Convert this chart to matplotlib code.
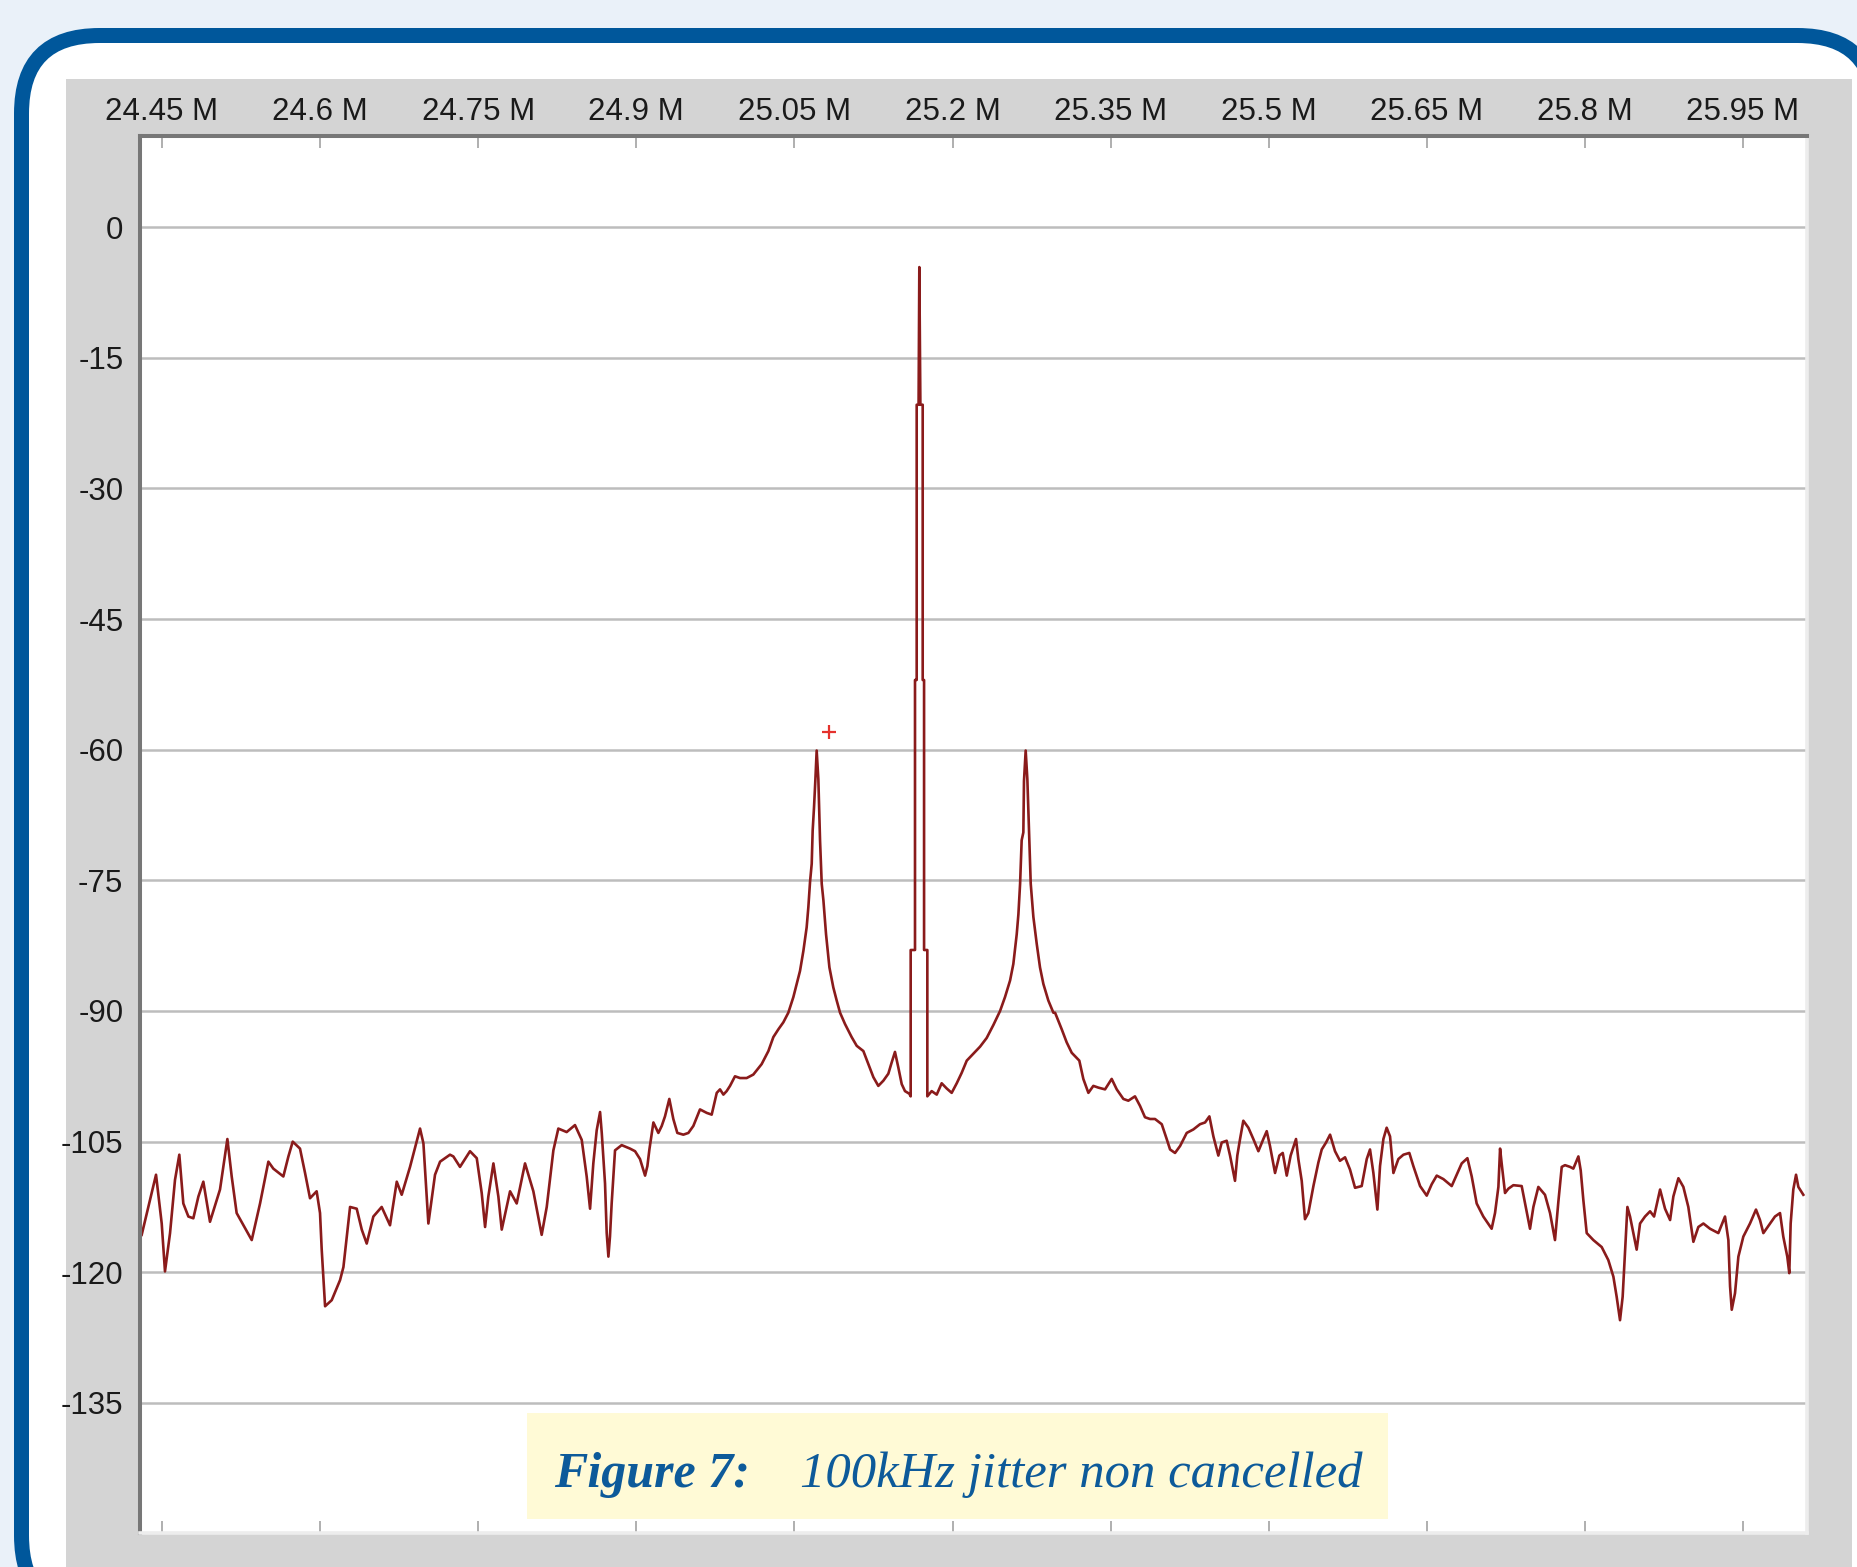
import matplotlib.pyplot as plt
from matplotlib.patches import FancyBboxPatch, Rectangle

plt.rcParams["font.family"] = ["Liberation Sans", "DejaVu Sans"]

W, H = 1857, 1567

# spectrum trace, frequency in MHz, level in dB
freq_mhz = [
    24.4307, 24.4443, 24.4497, 24.4528, 24.4576, 24.4623, 24.4664, 24.4702, 24.4750, 24.4797,
    24.4845, 24.4892, 24.4955, 24.5019, 24.5050, 24.5120, 24.5161, 24.5208, 24.5351, 24.5430,
    24.5509, 24.5556, 24.5651, 24.5699, 24.5740, 24.5809, 24.5857, 24.5904, 24.5967, 24.5999,
    24.6015, 24.6047, 24.6110, 24.6189, 24.6221, 24.6284, 24.6347, 24.6395, 24.6442, 24.6505,
    24.6584, 24.6663, 24.6727, 24.6774, 24.6853, 24.6948, 24.6980, 24.7027, 24.7090, 24.7138,
    24.7232, 24.7264, 24.7327, 24.7422, 24.7486, 24.7533, 24.7565, 24.7596, 24.7644, 24.7691,
    24.7723, 24.7802, 24.7865, 24.7944, 24.8023, 24.8102, 24.8150, 24.8213, 24.8260, 24.8339,
    24.8418, 24.8482, 24.8529, 24.8561, 24.8592, 24.8624, 24.8656, 24.8672, 24.8703, 24.8719,
    24.8735, 24.8750, 24.8766, 24.8798, 24.8861, 24.8940,
    24.8988, 24.9035, 24.9083, 24.9105, 24.9124, 24.9162, 24.9209, 24.9241, 24.9272, 24.9313,
    24.9351, 24.9389, 24.9446, 24.9494, 24.9541, 24.9604, 24.9668, 24.9715, 24.9763, 24.9794,
    24.9826, 24.9857, 24.9889, 24.9936, 24.9984, 25.0047, 25.0110,
    25.0189, 25.0253, 25.0300, 25.0348, 25.0395, 25.0442, 25.0490, 25.0522, 25.0553, 25.0585,
    25.0616, 25.0632, 25.0648, 25.0664, 25.0673, 25.0686, 25.0699, 25.0711, 25.0727, 25.0743,
    25.0759, 25.0775, 25.0800, 25.0832, 25.0869, 25.0901, 25.0933, 25.0980, 25.1043, 25.1091,
    25.1154, 25.1201, 25.1249, 25.1296, 25.1344, 25.1391, 25.1423, 25.1454, 25.1486, 25.1518,
    25.1549, 25.1590,
    25.1603, 25.1603, 25.1644, 25.1644, 25.1660, 25.1660, 25.1678, 25.1685, 25.1695, 25.1717,
    25.1717, 25.1730, 25.1730, 25.1761, 25.1761,
    25.1802, 25.1850, 25.1897, 25.1945, 25.1992, 25.2040, 25.2087, 25.2135, 25.2198, 25.2261,
    25.2324, 25.2388, 25.2451, 25.2498, 25.2546, 25.2577, 25.2609, 25.2625, 25.2641, 25.2656,
    25.2672, 25.2678, 25.2694, 25.2710, 25.2726, 25.2742, 25.2767, 25.2799, 25.2830, 25.2862,
    25.2909, 25.2957,
    25.2973, 25.3036, 25.3083, 25.3131, 25.3203, 25.3241, 25.3289, 25.3336, 25.3384, 25.3447,
    25.3510, 25.3558, 25.3621, 25.3668, 25.3731, 25.3779, 25.3826, 25.3874, 25.3921, 25.3985,
    25.4032, 25.4064, 25.4111, 25.4159, 25.4222, 25.4285, 25.4348, 25.4396, 25.4437, 25.4475,
    25.4522, 25.4554, 25.4601, 25.4633, 25.4680, 25.4702, 25.4728, 25.4759, 25.4807, 25.4854,
    25.4902, 25.4949, 25.4981, 25.5012, 25.5060, 25.5101, 25.5133, 25.5171, 25.5208, 25.5259,
    25.5281, 25.5313, 25.5344, 25.5376, 25.5424, 25.5471, 25.5503, 25.5544, 25.5582, 25.5629,
    25.5676, 25.5724, 25.5771, 25.5819, 25.5882, 25.5930, 25.5961, 25.5993, 25.6031, 25.6056,
    25.6088, 25.6119, 25.6151, 25.6183, 25.6230, 25.6278, 25.6334, 25.6372, 25.6436, 25.6499,
    25.6546, 25.6594, 25.6657, 25.6736,
    25.6831, 25.6885, 25.6926, 25.6973, 25.7036, 25.7115, 25.7147, 25.7179, 25.7195, 25.7210,
    25.7242, 25.7274, 25.7321, 25.7400, 25.7432, 25.7479, 25.7511, 25.7558, 25.7621, 25.7669,
    25.7716, 25.7748, 25.7780, 25.7811, 25.7859, 25.7890, 25.7938, 25.7960, 25.7985, 25.8017,
    25.8080, 25.8159, 25.8222, 25.8270, 25.8301, 25.8333, 25.8358, 25.8380, 25.8403, 25.8428,
    25.8460, 25.8491, 25.8523, 25.8570, 25.8618, 25.8656, 25.8713, 25.8760, 25.8808, 25.8839,
    25.8887, 25.8934, 25.8981, 25.9029, 25.9076, 25.9124, 25.9187, 25.9266, 25.9329, 25.9361,
    25.9377, 25.9393, 25.9424, 25.9456, 25.9503, 25.9566, 25.9623, 25.9661, 25.9693, 25.9756,
    25.9803, 25.9851, 25.9882, 25.9920, 25.9939, 25.9952, 25.9977, 26.0003, 26.0025, 26.0072,
]
level_db = [
    -115.7, -108.8, -114.4, -119.9, -115.5, -109.4, -106.5, -112.1, -113.6, -113.8,
    -111.3, -109.6, -114.2, -111.7, -110.5, -104.7, -109.0, -113.2, -116.3, -112.1,
    -107.3, -108.1, -109.0, -106.7, -105.0, -105.8, -108.6, -111.5, -110.7, -113.2,
    -117.4, -123.9, -123.2, -120.9, -119.4, -112.5, -112.7, -115.1, -116.7, -113.6,
    -112.5, -114.6, -109.6, -111.1, -107.9, -103.5, -105.2, -114.4, -108.8, -107.3,
    -106.5, -106.7, -107.9, -106.1, -106.9, -110.9, -114.8, -111.3, -107.5, -111.3,
    -115.1, -110.7, -112.1, -107.5, -110.7, -115.7, -112.5, -106.0, -103.5, -103.9,
    -103.1, -104.8, -109.0, -112.7, -107.5, -103.7, -101.6, -104.0, -109.8, -115.5,
    -118.2, -115.9, -112.1, -106.0, -105.4, -105.8,
    -106.1, -107.0, -108.9, -107.8, -105.9, -102.8, -104.0, -103.2, -102.1, -100.1,
    -102.4, -104.0, -104.2, -104.0, -103.2, -101.3, -101.7, -101.9, -99.4, -99.0,
    -99.6, -99.2, -98.6, -97.5, -97.7, -97.7, -97.3,
    -96.1, -94.6, -93.0, -92.1, -91.3, -90.2, -88.4, -86.9, -85.4, -83.1,
    -80.4, -78.1, -75.2, -73.1, -69.3, -66.6, -63.4, -60.1, -63.4, -70.4,
    -75.4, -77.3, -81.2, -85.0, -87.3, -88.8, -90.2, -91.5, -93.0, -94.0,
    -94.6, -96.1, -97.6, -98.6, -98.0, -97.2, -95.9, -94.7, -96.5, -98.4,
    -99.2, -99.5,
    -99.8, -83.0, -83.0, -52.0, -52.0, -20.4, -20.4, -4.6, -20.4, -20.4,
    -52.0, -52.0, -83.0, -83.0, -99.8,
    -99.2, -99.6, -98.3, -98.9, -99.4, -98.3, -97.1, -95.7, -94.9, -94.1,
    -93.1, -91.6, -90.0, -88.4, -86.5, -84.6, -81.2, -78.9, -75.4, -70.4,
    -69.5, -63.6, -60.1, -63.4, -69.5, -75.4, -79.2, -82.3, -85.0, -86.9,
    -88.8, -90.2,
    -90.2, -92.1, -93.6, -94.8, -95.7, -97.8, -99.4, -98.6, -98.8, -99.0,
    -97.8, -99.0, -100.1, -100.3, -99.8, -100.9, -102.2, -102.4, -102.4, -103.0,
    -104.7, -105.9, -106.3, -105.5, -104.0, -103.6, -103.0, -102.8, -102.1, -104.4,
    -106.6, -105.1, -104.9, -106.6, -109.5, -106.6, -104.7, -102.6, -103.4, -104.7,
    -106.1, -104.7, -103.8, -105.5, -108.6, -106.6, -106.3, -108.9, -106.6, -104.7,
    -107.0, -109.5, -113.9, -113.2, -110.1, -107.4, -105.9, -105.1, -104.2, -106.1,
    -107.2, -106.8, -108.2, -110.3, -110.1, -107.0, -105.9, -108.6, -112.8, -107.8,
    -104.7, -103.4, -104.4, -108.6, -107.0, -106.5, -106.3, -107.8, -110.1, -111.2,
    -109.9, -108.9, -109.3, -110.1,
    -107.5, -106.9, -109.0, -112.1, -113.6, -115.0, -113.2, -110.2, -105.8, -107.5,
    -110.9, -110.4, -110.0, -110.1, -112.1, -115.0, -112.5, -110.2, -111.1, -113.2,
    -116.3, -111.9, -107.9, -107.7, -107.9, -108.1, -106.7, -108.3, -111.7, -115.5,
    -116.3, -117.1, -118.6, -120.5, -122.8, -125.5, -122.8, -117.8, -112.5, -113.6,
    -115.5, -117.4, -114.4, -113.6, -113.0, -113.6, -110.5, -112.7, -114.0, -111.3,
    -109.2, -110.2, -112.5, -116.5, -114.8, -114.4, -115.0, -115.5, -113.6, -116.3,
    -121.6, -124.3, -122.4, -118.2, -115.9, -114.4, -112.8, -114.0, -115.5, -114.4,
    -113.6, -113.2, -115.9, -118.2, -120.1, -114.4, -110.5, -108.8, -110.2, -111.1,
]

# cursor marker above the lower sideband
marker_freq = [25.0828]
marker_db = [-58.0]

x_ticks = [24.45, 24.60, 24.75, 24.90, 25.05, 25.20, 25.35, 25.50, 25.65, 25.80, 25.95]
x_labels = ["24.45 M", "24.6 M", "24.75 M", "24.9 M", "25.05 M", "25.2 M",
            "25.35 M", "25.5 M", "25.65 M", "25.8 M", "25.95 M"]
y_ticks = [0, -15, -30, -45, -60, -75, -90, -105, -120, -135]
y_labels = ["0", "-15", "-30", "-45", "-60", "-75", "-90", "-105", "-120", "-135"]

caption_num = "Figure 7:"
caption_text = "100kHz jitter non cancelled"

fig = plt.figure(figsize=(W / 100, H / 100), dpi=100)
fig.patch.set_facecolor("#eaf1f9")

# page frame in pixel units
bg = fig.add_axes([0, 0, 1, 1], zorder=-1)
bg.set_xlim(0, W)
bg.set_ylim(H, 0)
bg.axis("off")
bg.add_patch(FancyBboxPatch((21.5, 35.5), 1854, 1578,
                            boxstyle="round,pad=0,rounding_size=78",
                            facecolor="white", edgecolor="#00579b", linewidth=15 * 0.72))
bg.add_patch(Rectangle((66, 79), 1786, 1600, facecolor="#d4d4d4", edgecolor="none"))

# analyser plot
ax = fig.add_axes([140 / W, 1 - 1533 / H, 1667 / W, 1397 / H])
ax.set_facecolor("white")
ax.plot(freq_mhz, level_db, color="#8a1b1b", linewidth=1.9)
ax.plot(marker_freq, marker_db, linestyle="none", marker="+", markersize=10,
        markeredgewidth=1.6, color="#e5322d")

ax.set_xlim(24.4291, 26.0107)
ax.set_ylim(-149.93, 10.45)
ax.set_xticks(x_ticks, x_labels)
ax.set_yticks(y_ticks, y_labels)
ax.tick_params(axis="x", direction="in", top=True, bottom=True, labeltop=True,
               labelbottom=False, length=8.5, width=1.1, color="#9a9a9a",
               pad=6.5, labelsize=22.5, labelcolor="#1a1a1a")
ax.tick_params(axis="y", length=0, pad=12, labelsize=22.5, labelcolor="#1a1a1a")
ax.grid(axis="y", color="#bdbdbd", linewidth=1.8)
ax.set_axisbelow(True)

for side in ["top", "left"]:
    ax.spines[side].set_color("#777777")
    ax.spines[side].set_linewidth(2.9)
for side in ["right", "bottom"]:
    ax.spines[side].set_color("#ededed")
    ax.spines[side].set_linewidth(2.6)

# caption overlay
ov = fig.add_axes([0, 0, 1, 1], zorder=5)
ov.set_xlim(0, W)
ov.set_ylim(H, 0)
ov.axis("off")
ov.add_patch(Rectangle((527, 1413), 861, 106, facecolor="#fffad6", edgecolor="none"))
ov.text(554, 1487, caption_num, family="Liberation Serif", style="italic", weight="bold",
        fontsize=36, color="#0d5a9a", va="baseline", ha="left")
ov.text(800, 1487, caption_text, family="Liberation Serif", style="italic",
        fontsize=36.5, color="#0d5a9a", va="baseline", ha="left")

fig.savefig("out.png", dpi=100, facecolor=fig.get_facecolor())
